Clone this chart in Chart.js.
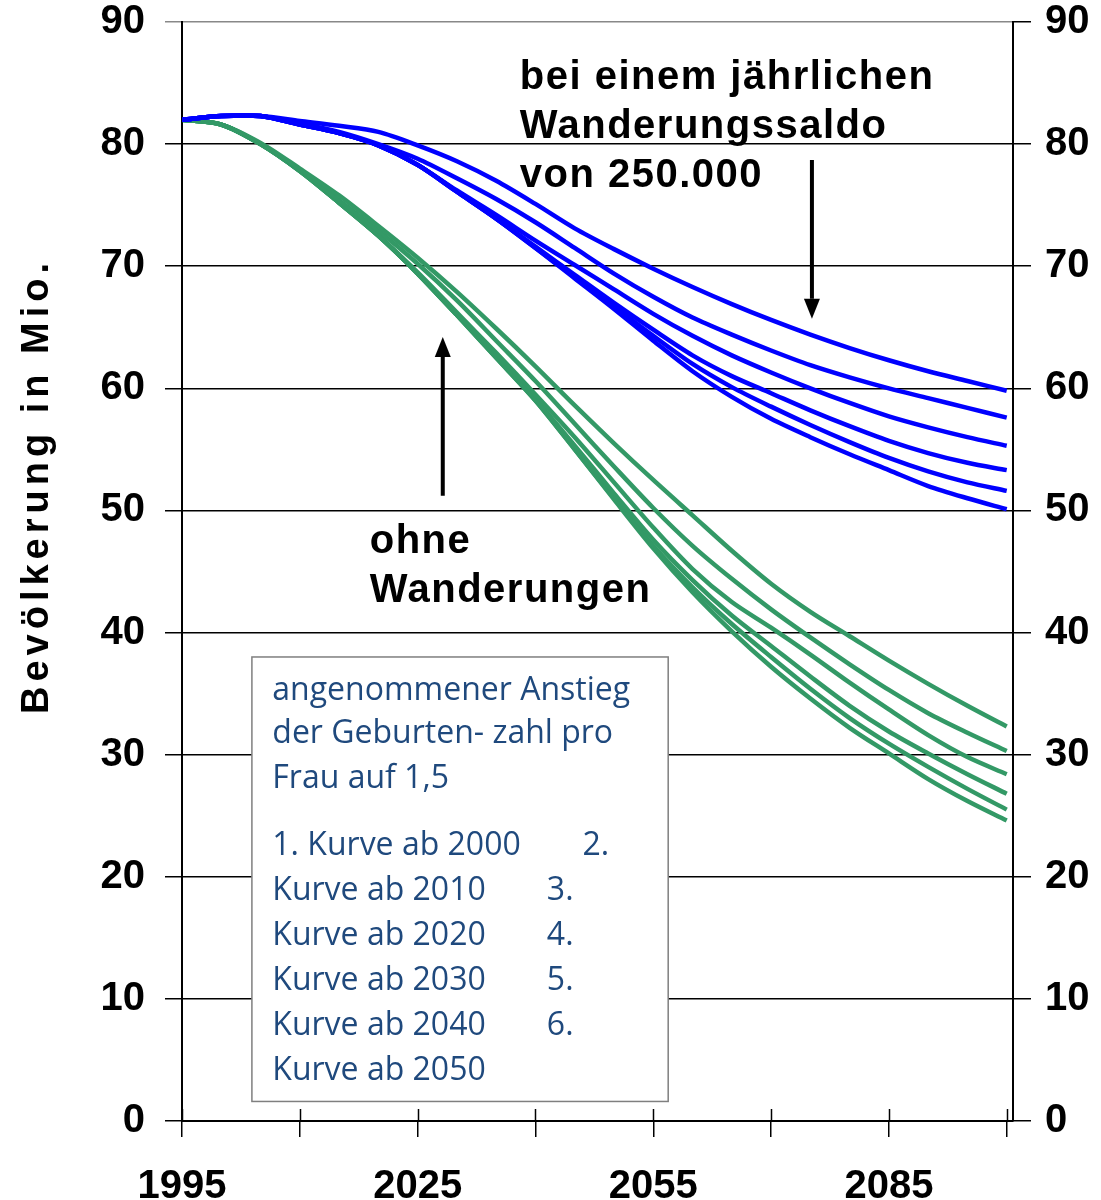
<!DOCTYPE html>
<html>
<head>
<meta charset="utf-8">
<script src="https://cdn.jsdelivr.net/npm/chart.js@4.4.1/dist/chart.umd.min.js"></script>
<style>
  body { margin: 0; background: #fff; }
  #wrap { width: 1101px; height: 1200px; }
</style>
</head>
<body>
<div id="wrap"><canvas id="popChart" width="1101" height="1200"></canvas></div>
<script>
// Jahre (Stützstellen alle 5 Jahre)
const years = [1995, 2000, 2005, 2010, 2015, 2020, 2025, 2030, 2035, 2040, 2045,
               2050, 2055, 2060, 2065, 2070, 2075, 2080, 2085, 2090, 2095, 2100];

// mit Wanderungssaldo 250.000 (Kurve 1 = Anstieg ab 2000 ... Kurve 6 = ab 2050)
const mitWanderung1 = [82.0, 82.3, 82.3, 81.9, 81.5, 81.0, 79.9, 78.6, 77.0, 75.1, 73.1, 71.4, 69.8, 68.3, 66.9, 65.6, 64.4, 63.3, 62.3, 61.4, 60.6, 59.8];
const mitWanderung2 = [82.0, 82.3, 82.3, 81.7, 81.0, 80.0, 78.8, 77.2, 75.5, 73.6, 71.5, 69.4, 67.5, 65.8, 64.4, 63.1, 61.9, 60.9, 60.0, 59.2, 58.4, 57.6];
const mitWanderung3 = [82.0, 82.3, 82.3, 81.6, 80.9, 79.9, 78.3, 76.2, 74.2, 72.1, 70.1, 68.1, 66.1, 64.3, 62.7, 61.3, 60.0, 58.8, 57.7, 56.8, 56.0, 55.3];
const mitWanderung4 = [82.0, 82.3, 82.3, 81.6, 80.9, 79.9, 78.3, 76.1, 73.9, 71.6, 69.3, 67.0, 64.8, 62.7, 61.0, 59.6, 58.2, 56.9, 55.7, 54.7, 53.9, 53.3];
const mitWanderung5 = [82.0, 82.3, 82.3, 81.6, 80.9, 79.9, 78.3, 76.1, 73.9, 71.5, 69.1, 66.7, 64.3, 62.0, 60.1, 58.5, 57.0, 55.6, 54.3, 53.2, 52.3, 51.6];
const mitWanderung6 = [82.0, 82.3, 82.3, 81.6, 80.9, 79.9, 78.3, 76.1, 73.9, 71.5, 69.0, 66.5, 63.9, 61.4, 59.3, 57.5, 56.0, 54.6, 53.3, 52.0, 51.0, 50.1];

// ohne Wanderungen
const ohneWanderung1 = [82.0, 81.6, 80.1, 78.0, 75.8, 73.3, 70.7, 67.9, 64.9, 61.8, 58.6, 55.5, 52.5, 49.6, 46.7, 44.0, 41.7, 39.7, 37.7, 35.8, 34.0, 32.3];
const ohneWanderung2 = [82.0, 81.6, 80.0, 77.9, 75.4, 72.9, 70.2, 67.2, 63.9, 60.6, 57.1, 53.6, 50.2, 47.1, 44.4, 41.9, 39.6, 37.4, 35.3, 33.4, 31.8, 30.3];
const ohneWanderung3 = [82.0, 81.6, 80.0, 77.8, 75.2, 72.5, 69.5, 66.2, 62.9, 59.5, 56.0, 52.3, 48.6, 45.2, 42.5, 40.4, 38.2, 35.9, 33.7, 31.6, 29.8, 28.4];
const ohneWanderung4 = [82.0, 81.6, 80.0, 77.8, 75.2, 72.5, 69.4, 66.0, 62.6, 59.1, 55.3, 51.4, 47.6, 44.3, 41.4, 38.9, 36.4, 34.0, 31.9, 30.1, 28.4, 26.8];
const ohneWanderung5 = [82.0, 81.6, 80.0, 77.8, 75.2, 72.5, 69.4, 66.0, 62.5, 59.0, 55.0, 51.0, 47.1, 43.7, 40.7, 38.0, 35.4, 33.0, 30.9, 29.0, 27.2, 25.5];
const ohneWanderung6 = [82.0, 81.6, 80.0, 77.8, 75.2, 72.5, 69.4, 66.0, 62.5, 59.0, 55.0, 50.9, 46.9, 43.3, 40.1, 37.2, 34.6, 32.2, 30.1, 28.0, 26.2, 24.6];

// Achsen
const xTickValues = [1995, 2010, 2025, 2040, 2055, 2070, 2085, 2100];
const xTickLabels = ['1995', '', '2025', '', '2055', '', '2085', ''];

// Texte
const yTitle = 'Bevölkerung in Mio.';
const textMitWanderung = ['bei einem jährlichen', 'Wanderungssaldo', 'von 250.000'];
const textOhneWanderung = ['ohne', 'Wanderungen'];
const boxLines = ['angenommener Anstieg', 'der Geburten- zahl pro', 'Frau auf 1,5'];
const boxCurves = [
    ['1. Kurve ab 2000', '2.'],
    ['Kurve ab 2010', '3.'],
    ['Kurve ab 2020', '4.'],
    ['Kurve ab 2030', '5.'],
    ['Kurve ab 2040', '6.'],
    ['Kurve ab 2050', '']
];

const BLUE = '#0000ff';
const GREEN = '#339966';

function series(values, color) {
    return {
        data: years.map((yr, i) => ({ x: yr, y: values[i] })),
        borderColor: color,
        backgroundColor: color,
        borderWidth: 4.5,
        pointRadius: 0,
        fill: false,
        tension: 0.3
    };
}

const datasets = [
    series(mitWanderung1, BLUE),
    series(mitWanderung2, BLUE),
    series(mitWanderung3, BLUE),
    series(mitWanderung4, BLUE),
    series(mitWanderung5, BLUE),
    series(mitWanderung6, BLUE),
    series(ohneWanderung1, GREEN),
    series(ohneWanderung2, GREEN),
    series(ohneWanderung3, GREEN),
    series(ohneWanderung4, GREEN),
    series(ohneWanderung5, GREEN),
    series(ohneWanderung6, GREEN)
];

function drawArrow(ctx, x, y0, y1) {
    // Pfeil von y0 nach y1 (Spitze bei y1)
    const dir = y1 > y0 ? 1 : -1;
    const head = 20;
    ctx.save();
    ctx.strokeStyle = '#000';
    ctx.fillStyle = '#000';
    ctx.lineWidth = 4;
    ctx.beginPath();
    ctx.moveTo(x, y0);
    ctx.lineTo(x, y1 - dir * head);
    ctx.stroke();
    ctx.beginPath();
    ctx.moveTo(x, y1);
    ctx.lineTo(x - 8, y1 - dir * head);
    ctx.lineTo(x + 8, y1 - dir * head);
    ctx.closePath();
    ctx.fill();
    ctx.restore();
}

const annotationPlugin = {
    id: 'annotations',
    afterDatasetsDraw(chart) {
        const ctx = chart.ctx;
        const xs = chart.scales.x;
        const ys = chart.scales.y;
        const px = v => xs.getPixelForValue(v);
        const py = v => ys.getPixelForValue(v);

        // kleine Striche über der x-Achse
        ctx.save();
        ctx.strokeStyle = '#000';
        ctx.lineWidth = 1.5;
        xTickValues.forEach(v => {
            ctx.beginPath();
            ctx.moveTo(Math.round(px(v)) + 0.5, ys.bottom);
            ctx.lineTo(Math.round(px(v)) + 0.5, ys.bottom - 12);
            ctx.stroke();
        });
        ctx.restore();

        // Textfeld
        const bx0 = px(2003.9), bx1 = px(2056.9);
        const by0 = py(38.0), by1 = py(1.6);
        ctx.save();
        ctx.fillStyle = '#fff';
        ctx.fillRect(bx0, by0, bx1 - bx0, by1 - by0);
        ctx.strokeStyle = '#7f7f7f';
        ctx.lineWidth = 1.5;
        ctx.strokeRect(bx0, by0, bx1 - bx0, by1 - by0);

        ctx.fillStyle = '#1f497d';
        ctx.font = '32px "Open Sans"';
        ctx.textBaseline = 'middle';
        ctx.textAlign = 'left';
        const tx = px(2006.5);
        const firstRows = [35.25, 31.7, 28.0];
        boxLines.forEach((t, i) => ctx.fillText(t, tx, py(firstRows[i])));
        const curveRows = [22.5, 18.85, 15.2, 11.5, 7.8, 4.1];
        boxCurves.forEach((row, i) => {
            ctx.fillText(row[0], tx, py(curveRows[i]));
            const nx = i === 0 ? px(2046.0) : px(2041.45);
            ctx.fillText(row[1], nx, py(curveRows[i]));
        });
        ctx.restore();

        // Beschriftungen
        ctx.save();
        ctx.fillStyle = '#000';
        ctx.font = 'bold 40px "Liberation Sans"';
        ctx.letterSpacing = '1.5px';
        ctx.textBaseline = 'middle';
        ctx.textAlign = 'left';
        const mitRows = [85.4, 81.4, 77.4];
        textMitWanderung.forEach((t, i) => ctx.fillText(t, px(2038.0), py(mitRows[i])));
        const ohneRows = [47.4, 43.4];
        textOhneWanderung.forEach((t, i) => ctx.fillText(t, px(2018.9), py(ohneRows[i])));
        ctx.restore();

        // Pfeile
        drawArrow(ctx, px(2075.2), py(78.7), py(65.7));
        drawArrow(ctx, px(2028.2), py(51.2), py(64.2));

        // y-Achsentitel
        ctx.save();
        ctx.translate(38, py(52.0));
        ctx.rotate(-Math.PI / 2);
        ctx.fillStyle = '#000';
        ctx.font = 'bold 38px "Liberation Sans"';
        ctx.letterSpacing = '5px';
        ctx.textAlign = 'center';
        ctx.textBaseline = 'middle';
        ctx.fillText(yTitle, 0, 0);
        ctx.restore();
    }
};

// kleine lineHeight, damit die Beschriftung oben keinen Extra-Rand erzwingt
const tickFont = { family: 'Liberation Sans', size: 40, weight: 'bold', lineHeight: 0.1 };

new Chart(document.getElementById('popChart'), {
    type: 'line',
    data: { datasets: datasets },
    options: {
        responsive: false,
        animation: false,
        layout: { padding: { top: 22, left: 0, right: 0, bottom: 0 } },
        plugins: {
            legend: { display: false },
            tooltip: { enabled: false },
            title: { display: false }
        },
        scales: {
            x: {
                type: 'linear',
                position: 'bottom',
                min: 1995,
                max: 2100.8,
                afterBuildTicks: scale => {
                    scale.ticks = xTickValues.map(v => ({ value: v }));
                },
                afterFit: scale => { scale.height = 79; },
                ticks: {
                    autoSkip: false,
                    maxRotation: 0,
                    font: { family: 'Liberation Sans', size: 40, weight: 'bold' },
                    color: '#000',
                    padding: 26,
                    callback: (value) => {
                        const i = xTickValues.indexOf(value);
                        return i >= 0 ? xTickLabels[i] : '';
                    }
                },
                grid: {
                    drawOnChartArea: false,
                    drawTicks: true,
                    tickLength: 16,
                    color: '#000',
                    lineWidth: 1.5
                },
                border: { color: '#000', width: 2 }
            },
            y: {
                position: 'left',
                min: 0,
                max: 90,
                afterFit: scale => { scale.width = 182; },
                ticks: {
                    stepSize: 10,
                    font: tickFont,
                    color: '#000',
                    padding: 20
                },
                grid: {
                    color: ctx => (ctx.tick && ctx.tick.value === 90 ? '#888' : '#000'),
                    lineWidth: 1.5,
                    tickLength: 17
                },
                border: { color: '#000', width: 2 }
            },
            y2: {
                position: 'right',
                min: 0,
                max: 90,
                afterFit: scale => { scale.width = 88; },
                ticks: {
                    stepSize: 10,
                    font: tickFont,
                    color: '#000',
                    padding: 14
                },
                grid: {
                    drawOnChartArea: false,
                    color: '#000',
                    lineWidth: 1.5,
                    tickLength: 18
                },
                border: { color: '#000', width: 2 }
            }
        }
    },
    plugins: [annotationPlugin]
});
</script>
</body>
</html>
